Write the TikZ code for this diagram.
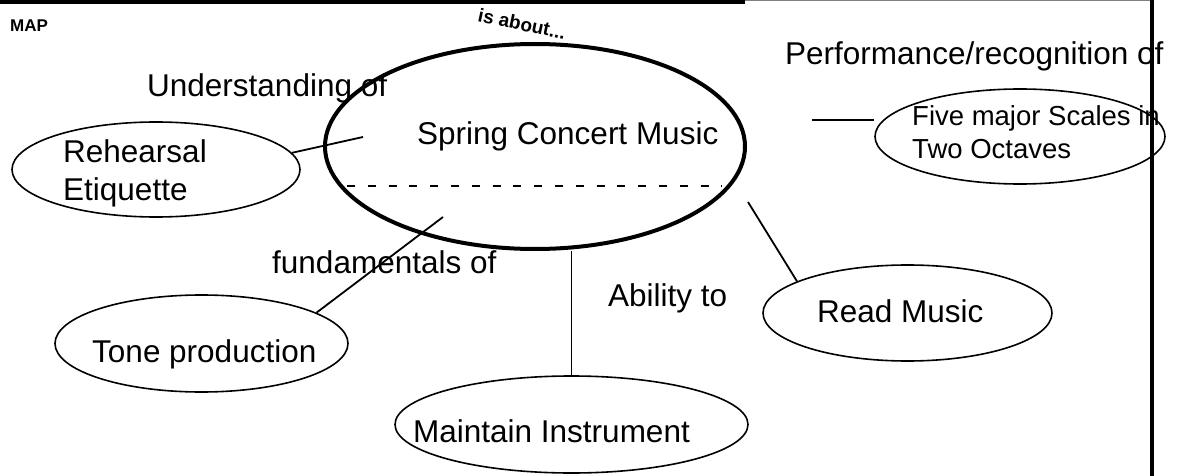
\documentclass[tikz,border=0pt]{standalone}
\usepackage{fontspec}
\setmainfont{Liberation Sans}
\usetikzlibrary{shapes.geometric}

\begin{document}
\begin{tikzpicture}[x=1pt, y=-1pt,
    bubble/.style={ellipse, draw, line width=1.6pt, inner sep=0pt},
    word/.style={anchor=base west, inner sep=0pt, font=\fontsize{31.5}{38}\selectfont, align=left},
    smallword/.style={anchor=base west, inner sep=0pt, font=\fontsize{27.5}{33.5}\selectfont, align=left},
    link/.style={line width=1.8pt}]
  \useasboundingbox (0,0) rectangle (1178,476);

  % top edge of the page
  \fill (0,0) rectangle (745,4);
  \draw[gray, line width=1pt] (745,0.5) -- (1152,0.5);

  \node[anchor=base west, inner sep=0pt, font=\bfseries\fontsize{17}{20}\selectfont] (maptxt) at (10,32) {MAP};
  \node[anchor=base west, inner sep=0pt, rotate=-12, font=\bfseries\fontsize{19}{22}\selectfont] (abouttxt) at (477,21) {is about...};

  % the bubbles
  \node[bubble, line width=4pt, minimum width=420, minimum height=205] (spring) at (535,146.5) {};
  \node[bubble, minimum width=288, minimum height=95] (reh) at (156,169.5) {};
  \node[bubble, minimum width=293, minimum height=97] (tone) at (201.5,343.5) {};
  \node[bubble, minimum width=353, minimum height=97] (maint) at (571.5,424.5) {};
  \node[bubble, minimum width=289, minimum height=96] (read) at (907.5,313) {};
  \node[bubble, minimum width=290, minimum height=95] (five) at (1020,136.5) {};

  \draw[line width=1.6pt, dash pattern=on 8pt off 12.8pt] (347,186) -- (722,186);

  % texts (two-line nodes sit on their last line)
  \node[word] (springtxt) at (417,145) {Spring Concert Music};
  \node[word] (undtxt) at (147,97) {Understanding of};
  \node[word] (fundtxt) at (272,273) {fundamentals of};
  \node[word] (abltxt) at (608,306) {Ability to};
  \node[word] (perftxt) at (785,65) {Performance/recognition of};
  \node[word] (rehtxt) at (63,200) {Rehearsal\\Etiquette};
  \node[word] (tonetxt) at (92,362) {Tone production};
  \node[word] (mainttxt) at (413,442) {Maintain Instrument};
  \node[word] (readtxt) at (817,322) {Read Music};
  \node[smallword] (fivetxt) at (912,159) {Five major Scales in\\Two Octaves};

  % connectors
  \coordinate (rehtip) at (363,137);
  \coordinate (tonetip) at (443,217);
  \coordinate (readtip) at (748,202);
  \coordinate (fivetip) at (812,120);
  \draw[link] (reh.7) -- (rehtip);
  \draw[link] (tone.15) -- (tonetip);
  \draw[link] (maint.north) -- (maint.north |- spring.south);
  \draw[link] (read.164) -- (readtip);
  \draw[link] (fivetip) -- (five.west |- fivetip);

  % right edge of the page
  \fill (1150,0) rectangle (1154,476);
\end{tikzpicture}
\end{document}
